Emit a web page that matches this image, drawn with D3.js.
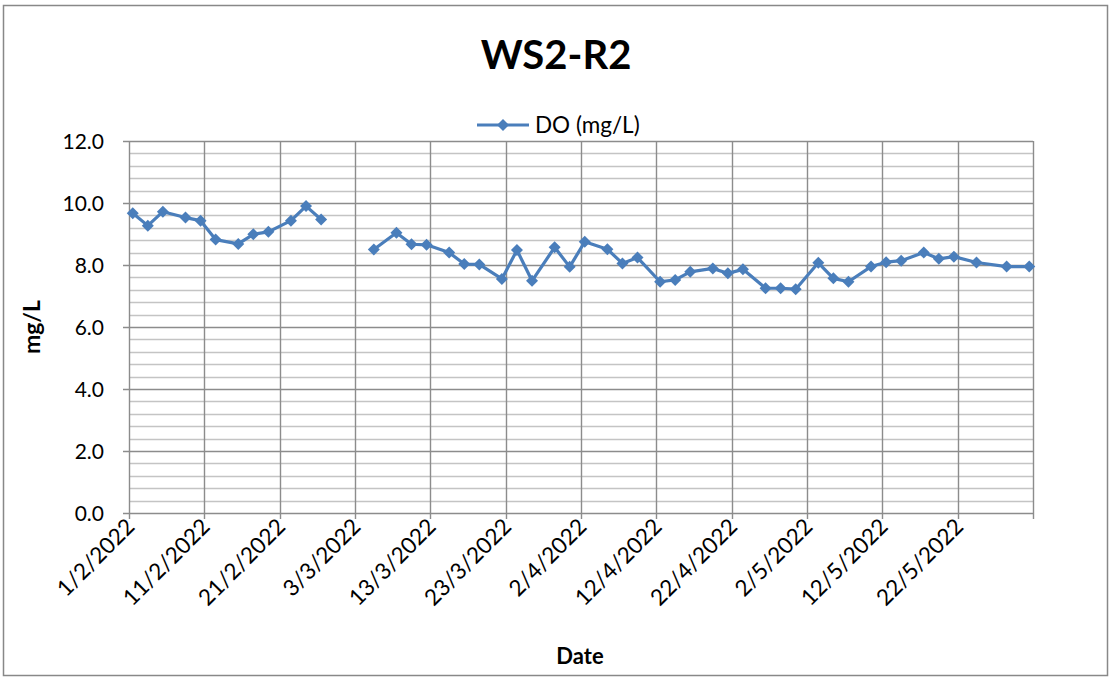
<!DOCTYPE html>
<html><head><meta charset="utf-8">
<script src="https://cdn.jsdelivr.net/npm/d3@7"></script>
<style>body{margin:0;background:#fff}svg{display:block}text{font-family:Lato,"Open Sans",sans-serif;fill:#000}</style>
</head><body><svg id="c" width="1109" height="677"></svg>
<script>
const title = "WS2-R2";
const seriesName = "DO (mg/L)";
const yTitle = "mg/L";
const xTitle = "Date";
// sample dates (d/m/yyyy); null value = empty cell (line break)
const dates = ["1/2/2022","3/2/2022","5/2/2022","8/2/2022","10/2/2022","12/2/2022","15/2/2022","17/2/2022","19/2/2022","22/2/2022","24/2/2022","26/2/2022",
  "1/3/2022",
  "5/3/2022","8/3/2022","10/3/2022","12/3/2022","15/3/2022","17/3/2022","19/3/2022","22/3/2022","24/3/2022","26/3/2022","29/3/2022","31/3/2022",
  "2/4/2022","5/4/2022","7/4/2022","9/4/2022","12/4/2022","14/4/2022","16/4/2022","19/4/2022","21/4/2022","23/4/2022","26/4/2022","28/4/2022","30/4/2022",
  "3/5/2022","5/5/2022","7/5/2022","10/5/2022","12/5/2022","14/5/2022","17/5/2022","19/5/2022","21/5/2022","24/5/2022","28/5/2022","31/5/2022"];
const doValues = [9.67,9.27,9.72,9.53,9.43,8.82,8.68,8.99,9.07,9.43,9.90,9.47,
  null,
  8.50,9.04,8.67,8.65,8.40,8.03,8.02,7.55,8.48,7.49,8.57,7.94,
  8.75,8.51,8.05,8.24,7.46,7.52,7.78,7.89,7.73,7.86,7.25,7.25,7.22,
  8.07,7.57,7.46,7.95,8.09,8.14,8.40,8.20,8.27,8.08,7.95,7.95];
const xTickLabels = ["1/2/2022","11/2/2022","21/2/2022","3/3/2022","13/3/2022","23/3/2022","2/4/2022","12/4/2022","22/4/2022","2/5/2022","12/5/2022","22/5/2022"];
const xDomain = ["1/2/2022","1/6/2022"];
const yTicks = [0,2,4,6,8,10,12];
const yMinorStep = 0.4;

const parse = s => { const [d,m,y] = s.split("/").map(Number); return new Date(Date.UTC(y,m-1,d)); };
const half = 12*3600*1000;
const data = dates.map((s,i)=>({date: parse(s), v: doValues[i]}));

const L=129, R=1033, T=141, B=513;
const svg = d3.select("#c");
const x = d3.scaleUtc().domain(xDomain.map(parse)).range([L,R]);
const y = d3.scaleLinear().domain([0,12]).range([B,T]);

// outer border
svg.append("rect").attr("x",3.5).attr("y",5.5).attr("width",1104).attr("height",670)
  .attr("fill","#fff").attr("stroke","#888").attr("stroke-width",1.5);

// minor horizontal gridlines
const minor = d3.range(0, 12.0001, yMinorStep).filter(v => Math.abs(v/2 - Math.round(v/2)) > 1e-6);
svg.append("g").selectAll("line").data(minor).join("line")
  .attr("x1",L).attr("x2",R).attr("y1",d=>Math.round(y(d))+0.5).attr("y2",d=>Math.round(y(d))+0.5)
  .attr("stroke","#c4c4c4").attr("stroke-width",1.3);
// major horizontal gridlines
svg.append("g").selectAll("line").data(yTicks).join("line")
  .attr("x1",L-6).attr("x2",R).attr("y1",d=>Math.round(y(d))+0.5).attr("y2",d=>Math.round(y(d))+0.5)
  .attr("stroke","#8c8c8c").attr("stroke-width",1.4);
// vertical gridlines
const xTickDates = xTickLabels.map(parse).concat([parse(xDomain[1])]);
svg.append("g").selectAll("line").data(xTickDates).join("line")
  .attr("x1",d=>Math.round(x(d))+0.5).attr("x2",d=>Math.round(x(d))+0.5).attr("y1",T).attr("y2",B+6)
  .attr("stroke","#8c8c8c").attr("stroke-width",1.4);

// y tick labels
svg.append("g").selectAll("text").data(yTicks).join("text")
  .attr("x",104).attr("y",d=>y(d)+7.5).attr("text-anchor","end").attr("font-size",21)
  .text(d=>d.toFixed(1));

// x tick labels rotated
svg.append("g").selectAll("text").data(xTickLabels).join("text")
  .attr("transform",d=>`translate(${x(parse(d))+7},${B+15}) rotate(-45)`)
  .attr("text-anchor","end").attr("font-size",22.5).text(d=>d);

// axis titles
svg.append("text").attr("x",580).attr("y",664).attr("text-anchor","middle")
  .attr("font-size",22).attr("font-weight","bold").text(xTitle);
svg.append("text").attr("transform","translate(40,327) rotate(-90)").attr("text-anchor","middle")
  .attr("font-size",23).attr("font-weight","bold").text(yTitle);

// title
svg.append("text").attr("x",556).attr("y",69).attr("text-anchor","middle")
  .attr("font-size",40).attr("font-weight","bold").text(title);

const color = "#4A7EBB";
const diamond = d3.symbol().type(d3.symbolSquare).size(72);

// series line
const line = d3.line().defined(d=>d.v!==null).x(d=>x(new Date(+d.date+half))).y(d=>y(d.v));
svg.append("path").datum(data).attr("d",line).attr("fill","none")
  .attr("stroke",color).attr("stroke-width",3.2).attr("stroke-linejoin","round");
svg.append("g").selectAll("path").data(data.filter(d=>d.v!==null)).join("path")
  .attr("transform",d=>`translate(${x(new Date(+d.date+half))},${y(d.v)}) rotate(45)`)
  .attr("d",diamond).attr("fill",color);

// legend
svg.append("line").attr("x1",477).attr("x2",529).attr("y1",125).attr("y2",125)
  .attr("stroke",color).attr("stroke-width",3.2);
svg.append("path").attr("transform","translate(503,125) rotate(45)").attr("d",diamond).attr("fill",color);
svg.append("text").attr("x",535).attr("y",133).attr("font-size",22.5).text(seriesName);
</script></body></html>
